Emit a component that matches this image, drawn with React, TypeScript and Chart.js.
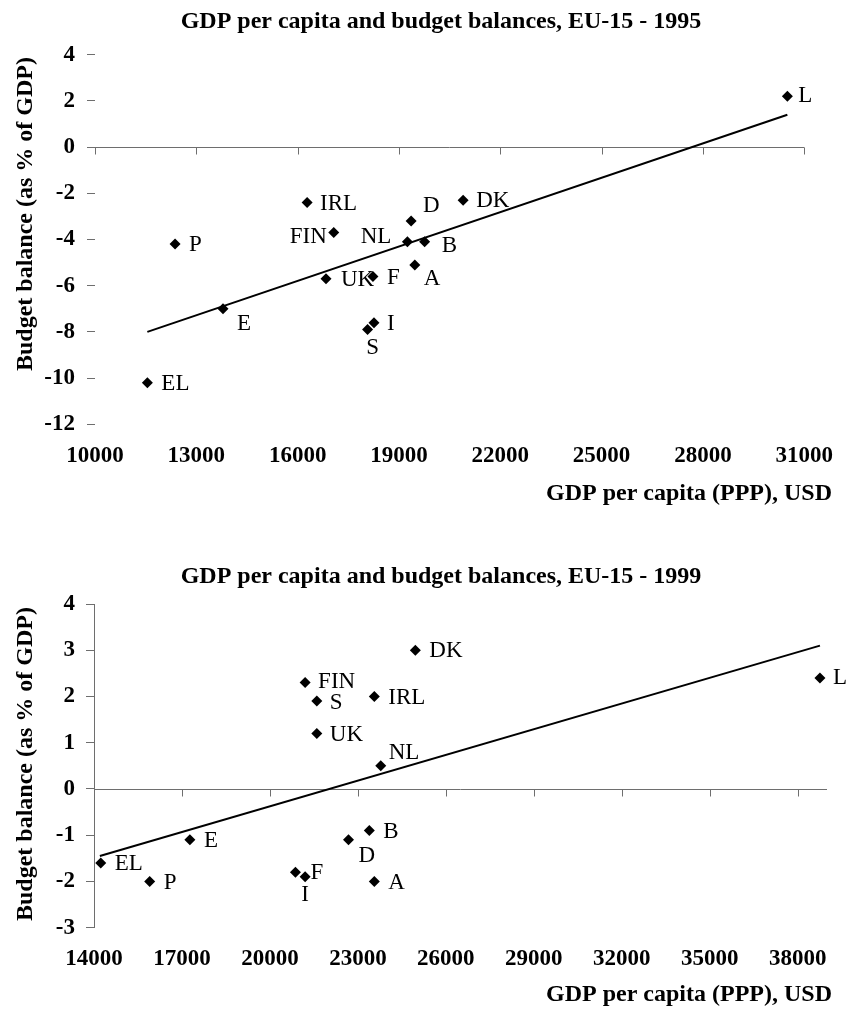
import React, { useEffect, useRef } from 'react';
import { Chart, registerables } from 'chart.js';

Chart.register(...registerables);

// ---------- DATA: 1995 ----------
const countries1995 = ['L', 'EL', 'P', 'E', 'IRL', 'FIN', 'UK', 'F', 'NL', 'D', 'B', 'A', 'I', 'S', 'DK'];
const gdp1995 = [30500, 11550, 12370, 13790, 16280, 17070, 16840, 18230, 19250, 19360, 19760, 19470, 18260, 18070, 20900];
const balance1995 = [2.2, -10.2, -4.2, -7.0, -2.4, -3.7, -5.7, -5.6, -4.1, -3.2, -4.1, -5.1, -7.6, -7.9, -2.3];
const trendX1995 = [11550, 30500];
const trendY1995 = [-8.0, 1.4];
const xTicks1995 = [10000, 13000, 16000, 19000, 22000, 25000, 28000, 31000];
const yTicks1995 = [-12, -10, -8, -6, -4, -2, 0, 2, 4];

// ---------- DATA: 1999 ----------
const countries1999 = ['DK', 'L', 'FIN', 'S', 'IRL', 'UK', 'NL', 'B', 'D', 'F', 'I', 'A', 'EL', 'E', 'P'];
const gdp1999 = [24960, 38760, 21200, 21600, 23560, 21600, 23780, 23390, 22680, 20870, 21200, 23560, 14230, 17270, 15900];
const balance1999 = [3.0, 2.4, 2.3, 1.9, 2.0, 1.2, 0.5, -0.9, -1.1, -1.8, -1.9, -2.0, -1.6, -1.1, -2.0];
const trendX1999 = [14200, 38760];
const trendY1999 = [-1.45, 3.1];
const xTicks1999 = [14000, 17000, 20000, 23000, 26000, 29000, 32000, 35000, 38000];
const yTicks1999 = [-3, -2, -1, 0, 1, 2, 3, 4];

// ---------- STYLE ----------
const FONT = "'Liberation Serif', 'Times New Roman', Times, serif";
const AXIS_COLOR = '#6e6e6e';
const Y_TITLE = 'Budget balance (as % of GDP)';
const X_TITLE = 'GDP per capita (PPP), USD';

type LabelStyle = Record<string, [number, number, CanvasTextAlign]>;

const labelStyle1995: LabelStyle = {
  L: [11, 0, 'left'], EL: [14, 1, 'left'], P: [14, 1, 'left'], E: [14, 15, 'left'],
  IRL: [13, 1, 'left'], FIN: [-7, 4, 'right'], UK: [15, 1, 'left'], F: [14, 1, 'left'],
  NL: [-16, -5, 'right'], D: [12, -15, 'left'], B: [17, 4, 'left'], A: [9, 14, 'left'],
  I: [13, 1, 'left'], S: [5, 18, 'center'], DK: [13, 1, 'left'],
};

const labelStyle1999: LabelStyle = {
  DK: [14, 1, 'left'], L: [13, 0, 'left'], FIN: [13, -1, 'left'], S: [13, 2, 'left'],
  IRL: [14, 1, 'left'], UK: [13, 1, 'left'], NL: [8, -13, 'left'], B: [14, 1, 'left'],
  D: [10, 16, 'left'], F: [15, 1, 'left'], I: [0, 18, 'center'], A: [14, 1, 'left'],
  EL: [14, 1, 'left'], E: [14, 1, 'left'], P: [14, 1, 'left'],
};

interface Panel {
  title: string;
  countries: string[];
  gdp: number[];
  balance: number[];
  trendX: number[];
  trendY: number[];
  xTicks: number[];
  yTicks: number[];
  xMin: number; xMax: number; yMin: number; yMax: number;
  padTop: number; padRight: number; yWidth: number; xHeight: number;
  yBorder: boolean;
  labelStyle: LabelStyle;
  titleY: number; yTitleY: number; xTitleY: number;
}

const panels: Panel[] = [
  {
    title: 'GDP per capita and budget balances, EU-15 - 1995',
    countries: countries1995, gdp: gdp1995, balance: balance1995,
    trendX: trendX1995, trendY: trendY1995, xTicks: xTicks1995, yTicks: yTicks1995,
    xMin: 10000, xMax: 31000, yMin: -12, yMax: 4,
    padTop: 54.7, padRight: 29, yWidth: 95, xHeight: 80.7,
    yBorder: false, labelStyle: labelStyle1995,
    titleY: 22, yTitleY: 214, xTitleY: 494,
  },
  {
    title: 'GDP per capita and budget balances, EU-15 - 1999',
    countries: countries1999, gdp: gdp1999, balance: balance1999,
    trendX: trendX1999, trendY: trendY1999, xTicks: xTicks1999, yTicks: yTicks1999,
    xMin: 14000, xMax: 39000, yMin: -3, yMax: 4,
    padTop: 99, padRight: 24, yWidth: 94, xHeight: 82.3,
    yBorder: true, labelStyle: labelStyle1999,
    titleY: 72, yTitleY: 259, xTitleY: 490,
  },
];

function makeDecor(p: Panel) {
  return {
    id: 'decor',
    beforeDatasetsDraw(chart: any) {
      const ctx = chart.ctx;
      const xs = chart.scales.x;
      const ys = chart.scales.y;
      const y0 = Math.round(ys.getPixelForValue(0)) + 0.5;
      ctx.save();
      ctx.strokeStyle = AXIS_COLOR;
      ctx.lineWidth = 1;
      ctx.beginPath();
      ctx.moveTo(xs.left, y0);
      ctx.lineTo(xs.right, y0);
      xs.ticks.forEach((t: any) => {
        const px = Math.round(xs.getPixelForValue(t.value)) + 0.5;
        ctx.moveTo(px, y0);
        ctx.lineTo(px, y0 + 7);
      });
      ctx.stroke();
      ctx.restore();
    },
    afterDatasetsDraw(chart: any) {
      const ctx = chart.ctx;
      const meta = chart.getDatasetMeta(0);
      ctx.save();
      ctx.fillStyle = '#000';
      ctx.font = `23px ${FONT}`;
      ctx.textBaseline = 'middle';
      meta.data.forEach((pt: any, i: number) => {
        const name = p.countries[i];
        const st = p.labelStyle[name] || [13, 0, 'left'];
        ctx.textAlign = st[2];
        ctx.fillText(name, pt.x + st[0], pt.y + st[1]);
      });
      ctx.restore();
    },
    afterDraw(chart: any) {
      const ctx = chart.ctx;
      ctx.save();
      ctx.fillStyle = '#000';
      ctx.textBaseline = 'middle';
      ctx.font = `bold 24px ${FONT}`;
      ctx.textAlign = 'center';
      ctx.fillText(p.title, 441, p.titleY);
      ctx.textAlign = 'right';
      ctx.fillText(X_TITLE, 832, p.xTitleY);
      ctx.translate(26, p.yTitleY);
      ctx.rotate(-Math.PI / 2);
      ctx.textAlign = 'center';
      ctx.fillText(Y_TITLE, 0, 0);
      ctx.restore();
    },
  };
}

function ScatterPanel({ p }: { p: Panel }) {
  const ref = useRef<HTMLCanvasElement | null>(null);
  useEffect(() => {
    if (!ref.current) return;
    const chart = new Chart(ref.current, {
      type: 'scatter',
      data: {
        datasets: [
          {
            data: p.countries.map((_, i) => ({ x: p.gdp[i], y: p.balance[i] })),
            pointStyle: 'rectRot',
            pointRadius: 5.5,
            backgroundColor: '#000',
            borderColor: '#000',
            borderWidth: 0,
            clip: false,
          } as any,
          {
            data: p.trendX.map((x, i) => ({ x, y: p.trendY[i] })),
            showLine: true,
            borderColor: '#000',
            borderWidth: 2,
            pointRadius: 0,
            tension: 0,
            fill: false,
            clip: false,
          } as any,
        ],
      },
      options: {
        responsive: false,
        animation: false,
        events: [],
        layout: { padding: { top: p.padTop, right: p.padRight, left: 0, bottom: 0 } },
        plugins: { legend: { display: false }, tooltip: { enabled: false }, title: { display: false } },
        scales: {
          x: {
            type: 'linear',
            min: p.xMin,
            max: p.xMax,
            afterBuildTicks: (scale: any) => { scale.ticks = p.xTicks.map((v) => ({ value: v })); },
            afterFit: (scale: any) => { scale.height = p.xHeight; },
            grid: { display: false, drawTicks: false },
            border: { display: false },
            ticks: {
              autoSkip: false,
              maxRotation: 0,
              padding: 18,
              color: '#000',
              font: { family: FONT, size: 23, weight: 'bold' },
              callback: (v: any) => String(v),
            },
          },
          y: {
            type: 'linear',
            min: p.yMin,
            max: p.yMax,
            afterBuildTicks: (scale: any) => { scale.ticks = p.yTicks.map((v) => ({ value: v })); },
            afterFit: (scale: any) => { scale.width = p.yWidth; },
            grid: { display: true, drawOnChartArea: false, drawTicks: true, tickLength: 8, color: AXIS_COLOR },
            border: { display: p.yBorder, color: AXIS_COLOR, width: 1 },
            ticks: {
              autoSkip: false,
              padding: p.yBorder ? 11 : 12,
              color: '#000',
              font: { family: FONT, size: 23, weight: 'bold' },
              callback: (v: any) => String(v),
            },
          },
        },
      } as any,
      plugins: [makeDecor(p)],
    });
    return () => chart.destroy();
  }, [p]);
  return <canvas ref={ref} width={851} height={505} style={{ display: 'block', width: 851, height: 505 }} />;
}

export default function App() {
  return (
    <div style={{ position: 'absolute', left: 0, top: 0, width: 851, height: 1010, background: '#fff' }}>
      {panels.map((p, i) => (
        <ScatterPanel key={i} p={p} />
      ))}
    </div>
  );
}
